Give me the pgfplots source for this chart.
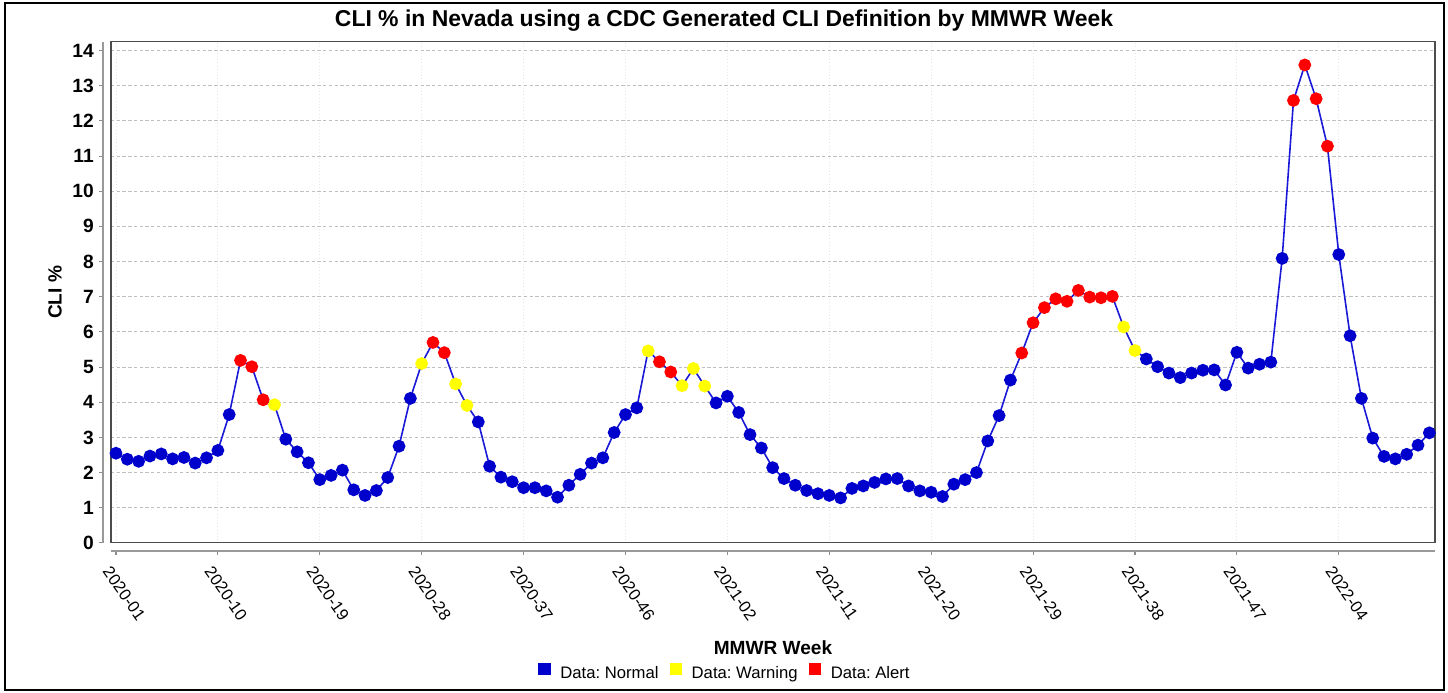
\documentclass[border=0pt]{standalone}
\usepackage{pgfplots}
\usepackage{pgfplotstable}
\pgfplotsset{compat=1.18}
\usepackage{fontspec}
\setmainfont{Liberation Sans}
\frenchspacing
\definecolor{nblue}{RGB}{0,0,204}
\definecolor{lblue}{RGB}{25,25,215}
\definecolor{wyel}{RGB}{255,255,0}
\definecolor{ared}{RGB}{255,0,0}
\pgfplotstableread{
i v c
0 2.55 n
1 2.38 n
2 2.32 n
3 2.47 n
4 2.53 n
5 2.39 n
6 2.43 n
7 2.27 n
8 2.42 n
9 2.63 n
10 3.65 n
11 5.19 a
12 5.01 a
13 4.07 a
14 3.93 w
15 2.95 n
16 2.59 n
17 2.28 n
18 1.80 n
19 1.92 n
20 2.07 n
21 1.51 n
22 1.35 n
23 1.49 n
24 1.86 n
25 2.75 n
26 4.11 n
27 5.10 w
28 5.70 a
29 5.41 a
30 4.52 w
31 3.91 w
32 3.44 n
33 2.18 n
34 1.87 n
35 1.74 n
36 1.57 n
37 1.57 n
38 1.48 n
39 1.30 n
40 1.64 n
41 1.95 n
42 2.27 n
43 2.42 n
44 3.14 n
45 3.65 n
46 3.84 n
47 5.46 w
48 5.15 a
49 4.86 a
50 4.47 w
51 4.96 w
52 4.46 w
53 3.98 n
54 4.17 n
55 3.71 n
56 3.08 n
57 2.70 n
58 2.14 n
59 1.83 n
60 1.64 n
61 1.49 n
62 1.40 n
63 1.35 n
64 1.28 n
65 1.55 n
66 1.62 n
67 1.72 n
68 1.82 n
69 1.83 n
70 1.62 n
71 1.48 n
72 1.44 n
73 1.32 n
74 1.67 n
75 1.80 n
76 2.00 n
77 2.90 n
78 3.62 n
79 4.63 n
80 5.40 a
81 6.26 a
82 6.69 a
83 6.94 a
84 6.87 a
85 7.18 a
86 6.99 a
87 6.97 a
88 7.01 a
89 6.14 w
90 5.47 w
91 5.23 n
92 5.01 n
93 4.83 n
94 4.70 n
95 4.83 n
96 4.91 n
97 4.92 n
98 4.49 n
99 5.42 n
100 4.97 n
101 5.08 n
102 5.14 n
103 8.09 n
104 12.58 a
105 13.59 a
106 12.63 a
107 11.28 a
108 8.20 n
109 5.89 n
110 4.11 n
111 2.98 n
112 2.46 n
113 2.39 n
114 2.52 n
115 2.78 n
116 3.13 n
}\cli
\begin{document}
\begin{tikzpicture}
\pgfplotsset{
  common/.style={
    at={#1}, anchor=south west,
    scale only axis, width=993pt, height=375.9pt,
    xmin=-0.44, xmax=116.5, ymin=0, ymax=14.25,
  },
}
% offset x axis line
\begin{axis}[common={(0pt,-5.8pt)},
  hide y axis, axis x line*=bottom,
  xtick={0,9,...,108}, xticklabels={},
  tick align=outside, major tick length=3pt,
  axis line style={draw=black!40, line width=1.5pt},
  tick style={draw=black!45, line width=0.8pt}]
\addplot[draw=none] coordinates {(0,0)};
\end{axis}
% offset y axis line
\begin{axis}[common={(-5.8pt,0pt)},
  hide x axis, axis y line*=left,
  ytick={0,1,...,14}, yticklabels={},
  tick align=outside, major tick length=3pt,
  axis line style={draw=black!40, line width=1.5pt},
  tick style={draw=black!45, line width=0.8pt}]
\addplot[draw=none] coordinates {(0,0)};
\end{axis}
% main axis
\begin{axis}[common={(0pt,0pt)},
  clip=false,
  xtick={0,9,...,108},
  xticklabels={2020-01,2020-10,2020-19,2020-28,2020-37,2020-46,2021-02,2021-11,2021-20,2021-29,2021-38,2021-47,2022-04},
  ytick={0,1,...,14},
  tick style={draw=none},
  /pgf/number format/assume math mode=true,
  xmajorgrids, ymajorgrids,
  x grid style={color=black!10, dotted, line width=0.6pt},
  y grid style={color=black!25, dash pattern=on 2.5pt off 1.8pt, line width=0.7pt},
  axis line style={draw=black!70, line width=0.8pt},
  xticklabel style={font=\fontsize{12.4}{14}\selectfont, anchor=north west, inner sep=0pt, xshift=-3.3pt, yshift=-16.5pt, rotate=-55},
  yticklabel style={font=\bfseries\fontsize{14.4}{16}\selectfont, anchor=east, inner sep=0pt, xshift=-12.75pt},
  title={CLI \% in Nevada using a CDC Generated CLI Definition by MMWR Week},
  title style={font=\bfseries\fontsize{17.2}{20}\selectfont, at={(axis description cs:0.463,1.030)}, anchor=base, inner sep=0pt, yshift=-6pt},
  xlabel={MMWR Week},
  xlabel style={font=\bfseries\fontsize{14.3}{16}\selectfont, at={(axis description cs:0.5,-0.2217)}, anchor=base, inner sep=0pt},
  ylabel={CLI \%},
  ylabel style={font=\bfseries\fontsize{14.3}{16}\selectfont, at={(axis description cs:-0.0372,0.5)}, anchor=base, inner sep=0pt},
  legend style={at={(axis description cs:0.463,-0.257)}, anchor=center, draw=none, fill=none,
    legend columns=3, font=\fontsize{12.5}{15}\selectfont, inner sep=0pt, nodes={inner sep=0pt},
    /tikz/every odd column/.style={column sep=7.5pt},
    /tikz/every even column/.style={column sep=8.5pt}},
]
\addplot[lblue, line width=1.2pt, forget plot,
  scatter, mark=*, mark size=4.2pt,
  point meta=explicit symbolic,
  scatter/classes={
    n={mark=*, draw=nblue, fill=nblue},
    w={mark=*, draw=wyel, fill=wyel},
    a={mark=*, draw=ared, fill=ared}}]
  table[x=i, y=v, meta=c] {\cli};
\addlegendimage{legend image code/.code={\fill[nblue] (0pt,-0.8pt) rectangle (8.5pt,7.7pt);}}
\addlegendentry{Data: Normal}
\addlegendimage{legend image code/.code={\fill[wyel] (0pt,-0.8pt) rectangle (8.5pt,7.7pt);}}
\addlegendentry{Data: Warning}
\addlegendimage{legend image code/.code={\fill[ared] (0pt,-0.8pt) rectangle (8.5pt,7.7pt);}}
\addlegendentry{Data: Alert}
\end{axis}
\draw[black, line width=1.5pt] (-79.5pt,-110.3pt) rectangle (999.75pt,404.9pt);
\pgfresetboundingbox
\useasboundingbox (-83.25pt,-111.8pt) rectangle (1002.75pt,407.2pt);
\end{tikzpicture}
\end{document}
